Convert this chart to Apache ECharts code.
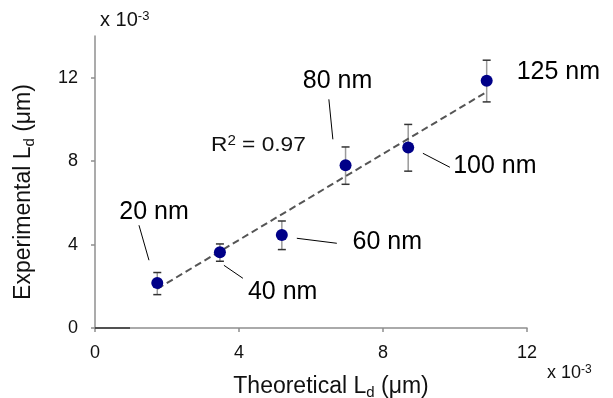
<!DOCTYPE html>
<html>
<head>
<meta charset="utf-8">
<script src="https://cdn.jsdelivr.net/npm/echarts@6/dist/echarts.min.js"></script>
<style>html,body{margin:0;padding:0;background:#fff}#c{width:613px;height:398px}</style>
</head>
<body>
<div id="c"></div>
<script>
// Values in units of 1e-3 µm
const sizes = ['20 nm', '40 nm', '60 nm', '80 nm', '100 nm', '125 nm'];
const theoretical = [1.73, 3.47, 5.19, 6.96, 8.70, 10.88];
const experimental = [2.16, 3.63, 4.46, 7.80, 8.65, 11.85];
const errLow = [1.60, 3.20, 3.76, 6.89, 7.52, 10.84];
const errHigh = [2.66, 4.03, 5.13, 8.68, 9.76, 12.84];
const trendX = [1.73, 10.88];
const trendY = [1.88, 11.32];
const xTicks = [0, 4, 8, 12];
const yTicks = [0, 4, 8, 12];
const r2Value = '0.97';

const FONT = 'Liberation Sans, Arial, sans-serif';
const chart = echarts.init(document.getElementById('c'), null, {renderer: 'canvas'});

const axisCommon = {
  type: 'value',
  axisLine: {show: true, lineStyle: {color: '#8f8f8f', width: 1.5}},
  axisTick: {show: true, length: 4, inside: false, lineStyle: {color: '#8f8f8f', width: 1.5}},
  splitLine: {show: false},
  axisLabel: {fontFamily: FONT, fontSize: 18, color: '#111'}
};

chart.setOption({
  animation: false,
  grid: {left: 95, right: 86, top: 36, bottom: 70},
  xAxis: Object.assign({}, axisCommon, {
    min: 0, max: 12, interval: 4,
    axisLabel: Object.assign({}, axisCommon.axisLabel, {margin: 16, customValues: xTicks}),
    axisTick: Object.assign({}, axisCommon.axisTick, {customValues: xTicks})
  }),
  yAxis: Object.assign({}, axisCommon, {
    min: 0, max: 14, interval: 2,
    axisLabel: Object.assign({}, axisCommon.axisLabel, {margin: 17, customValues: yTicks}),
    axisTick: Object.assign({}, axisCommon.axisTick, {customValues: yTicks})
  }),
  series: [
    {
      type: 'custom',
      data: theoretical.map((x, i) => [x, errLow[i], errHigh[i]]),
      renderItem: function (params, api) {
        const top = api.coord([api.value(0), api.value(2)]);
        const bot = api.coord([api.value(0), api.value(1)]);
        const hw = 4;
        return {
          type: 'group',
          children: [
            {type: 'line', shape: {x1: top[0], y1: top[1], x2: bot[0], y2: bot[1]}, style: {stroke: '#9a9a9a', lineWidth: 1.5}},
            {type: 'line', shape: {x1: top[0] - hw, y1: top[1], x2: top[0] + hw, y2: top[1]}, style: {stroke: '#333', lineWidth: 1.5}},
            {type: 'line', shape: {x1: bot[0] - hw, y1: bot[1], x2: bot[0] + hw, y2: bot[1]}, style: {stroke: '#333', lineWidth: 1.5}}
          ]
        };
      },
      z: 2
    },
    {
      type: 'line',
      data: trendX.map((x, i) => [x, trendY[i]]),
      symbol: 'none',
      lineStyle: {color: '#555', width: 2, type: [7, 4]},
      z: 3
    },
    {
      type: 'scatter',
      data: theoretical.map((x, i) => [x, experimental[i]]),
      symbolSize: 12,
      itemStyle: {color: '#000088', opacity: 1},
      z: 4
    }
  ]
});

// annotation offsets (pixels relative to each point): text left / cap-centre, leader line
const labelOffsets = [
  {dx: -38, dy: -71, line: [-18.3, -57.7, -8.3, -22.7]},
  {dx: 28, dy: 40, line: [4, 13, 23, 26]},
  {dx: 70.7, dy: 7.6, line: [15, 3.3, 55, 8.3]},
  {dx: -42.7, dy: -84, line: [-16.7, -66, -12.7, -26]},
  {dx: 45, dy: 19, line: [14.7, 5.7, 41.7, 19.7]},
  {dx: 30, dy: -8.5, line: null}
];

const graphics = [];
theoretical.forEach((x, i) => {
  const p = chart.convertToPixel({gridIndex: 0}, [x, experimental[i]]);
  const o = labelOffsets[i];
  graphics.push({
    type: 'text', x: p[0] + o.dx, y: p[1] + o.dy, z: 10,
    style: {text: sizes[i], fill: '#000', font: '25px ' + FONT, textAlign: 'left', textVerticalAlign: 'middle'}
  });
  if (o.line) {
    graphics.push({
      type: 'line', z: 10,
      shape: {x1: p[0] + o.line[0], y1: p[1] + o.line[1], x2: p[0] + o.line[2], y2: p[1] + o.line[3]},
      style: {stroke: '#000', lineWidth: 1}
    });
  }
});

graphics.push(
  {type: 'text', x: 211, y: 145, scaleX: 1.08, z: 10,
   style: {text: '{a|R}{b|2}{a| = ' + r2Value + '}', fill: '#111', textAlign: 'left', textVerticalAlign: 'middle',
     rich: {a: {fontSize: 21, fontFamily: FONT, fill: '#111', verticalAlign: 'bottom'},
            b: {fontSize: 14, fontFamily: FONT, fill: '#111', verticalAlign: 'top'}}}},
  {type: 'text', x: 100, y: 20, z: 10,
   style: {text: '{a|x 10}{b|-3}', fill: '#111', textAlign: 'left', textVerticalAlign: 'middle',
     rich: {a: {fontSize: 20, fontFamily: FONT, fill: '#111', verticalAlign: 'bottom'},
            b: {fontSize: 13, fontFamily: FONT, fill: '#111', verticalAlign: 'top'}}}},
  {type: 'text', x: 547, y: 373, z: 10,
   style: {text: '{a|x 10}{b|-3}', fill: '#111', textAlign: 'left', textVerticalAlign: 'middle',
     rich: {a: {fontSize: 18, fontFamily: FONT, fill: '#111', verticalAlign: 'bottom'},
            b: {fontSize: 12, fontFamily: FONT, fill: '#111', verticalAlign: 'top'}}}},
  {type: 'text', x: 331, y: 388, z: 10,
   style: {text: '{a|Theoretical L}{s|d}{a| (μm)}', fill: '#111', textAlign: 'center', textVerticalAlign: 'middle',
     rich: {a: {fontSize: 23, fontFamily: FONT, fill: '#111', verticalAlign: 'top'},
            s: {fontSize: 15, fontFamily: FONT, fill: '#111', verticalAlign: 'bottom', padding: [10, 0, 0, 0]}}}},
  {type: 'text', x: 25, y: 192, rotation: Math.PI / 2, z: 10,
   style: {text: '{a|Experimental L}{s|d}{a| (μm)}', fill: '#111', textAlign: 'center', textVerticalAlign: 'middle',
     rich: {a: {fontSize: 23, fontFamily: FONT, fill: '#111', verticalAlign: 'top'},
            s: {fontSize: 15, fontFamily: FONT, fill: '#111', verticalAlign: 'bottom', padding: [10, 0, 0, 0]}}}},
  {type: 'line', z: 10, shape: {x1: 95, y1: 328, x2: 130, y2: 328}, style: {stroke: '#333', lineWidth: 1.5}}
);

chart.setOption({graphic: graphics});
</script>
</body>
</html>
